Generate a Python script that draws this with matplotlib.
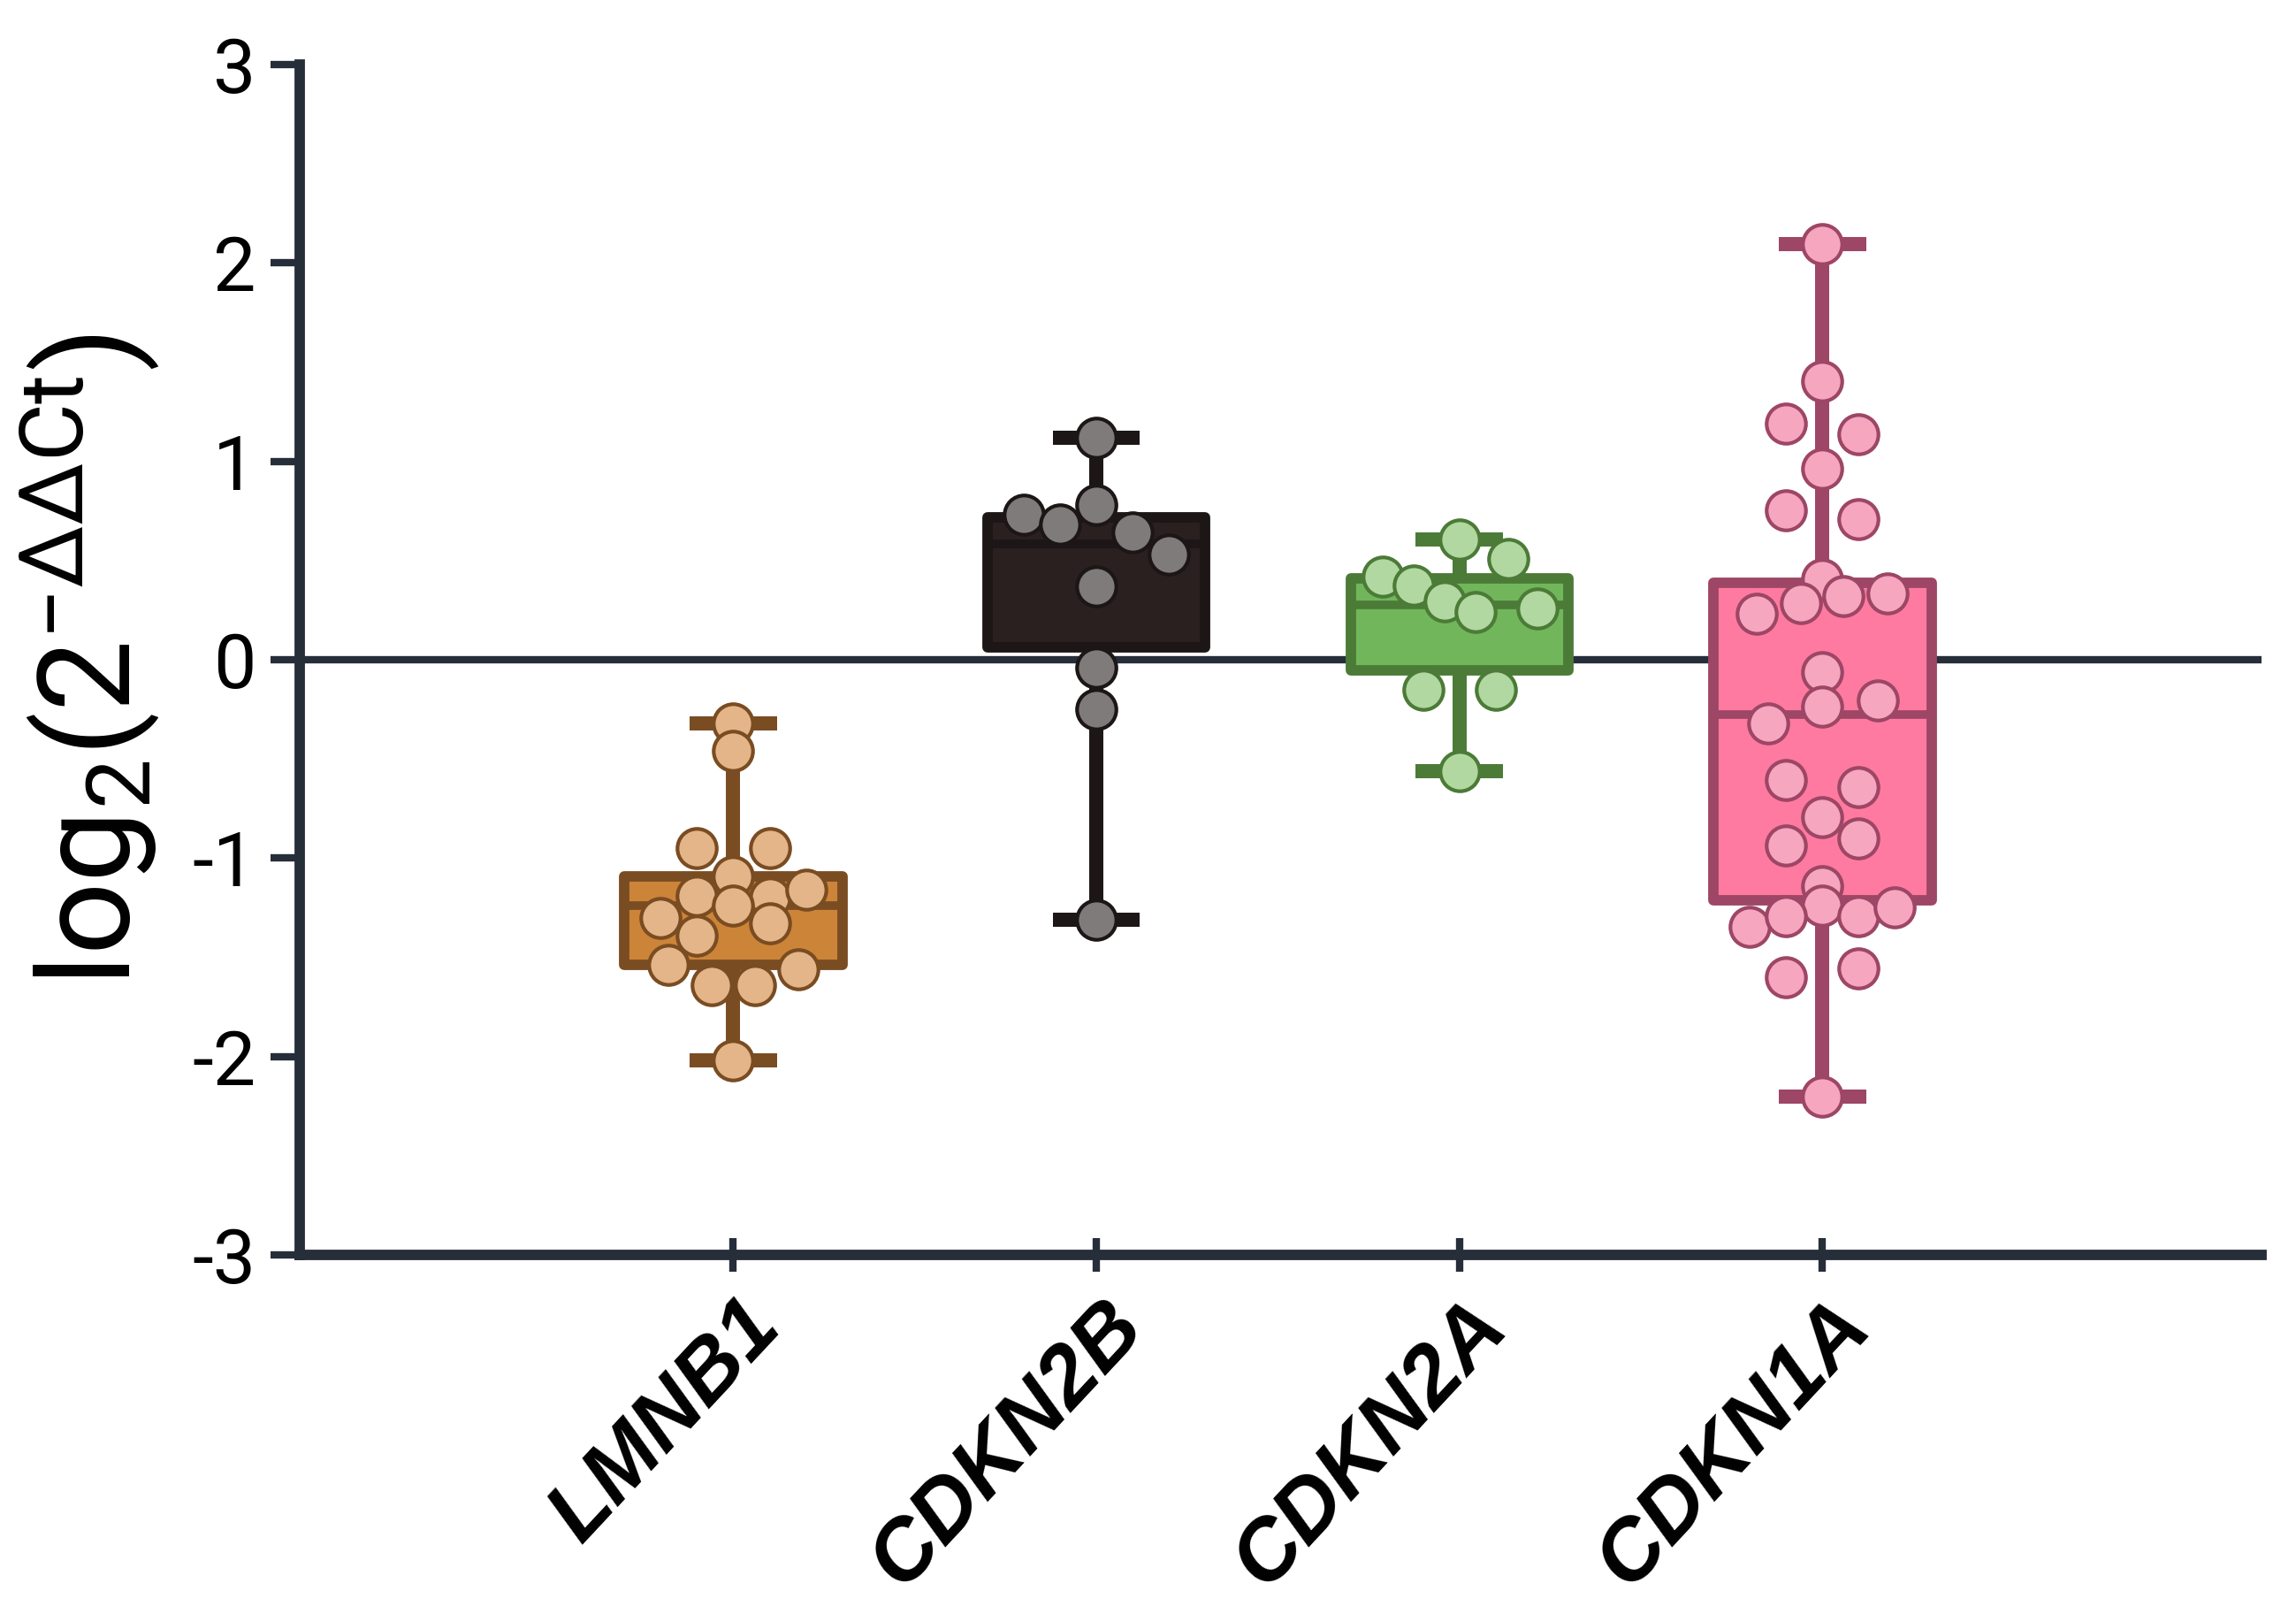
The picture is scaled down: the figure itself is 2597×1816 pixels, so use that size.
import numpy as np
import matplotlib
matplotlib.use("Agg")
import matplotlib.pyplot as plt
from matplotlib.transforms import ScaledTranslation

plt.rcParams['font.family'] = ['Roboto', 'DejaVu Sans']
plt.rcParams['mathtext.fontset'] = 'custom'
plt.rcParams['mathtext.rm'] = 'Roboto'
plt.rcParams['mathtext.it'] = 'Roboto:italic'
plt.rcParams['mathtext.bf'] = 'Roboto:bold'

# ---------------- data ----------------
genes = ["LMNB1", "CDKN2B", "CDKN2A", "CDKN1A"]

lmnb1_vals = [-0.32, -0.46, -0.95, -0.95, -1.09, -1.19, -1.20, -1.16, -1.24,
              -1.30, -1.39, -1.33, -1.54, -1.56, -1.64, -1.64, -2.02]
lmnb1_jit = [0, 0, -0.10, 0.10, 0, -0.10, 0.10, 0.20, 0,
             -0.20, -0.10, 0.10, -0.18, 0.18, -0.06, 0.06, 0]

cdkn2b_vals = [1.12, 0.78, 0.73, 0.68, 0.64, 0.53, 0.37, -0.04, -0.25, -1.31]
cdkn2b_jit = [0, 0, -0.20, -0.10, 0.10, 0.20, 0, 0, 0, 0]

cdkn2a_vals = [0.606, 0.51, 0.42, 0.376, 0.294, 0.242, 0.257, -0.15, -0.15, -0.56]
cdkn2a_jit = [0, 0.134, -0.21, -0.127, -0.04, 0.045, 0.215, -0.10, 0.10, 0]

cdkn1a_vals = [2.095, 1.404, 1.19, 1.138, 0.963, 0.755, 0.707, 0.405, 0.323, 0.284,
               0.333, 0.233, -0.063, -0.235, -0.205, -0.32, -0.606, -0.642, -0.794,
               -0.935, -0.899, -1.14, -1.237, -1.346, -1.292, -1.292, -1.246,
               -1.599, -1.557, -2.203]
cdkn1a_jit = [0, 0, -0.10, 0.10, 0, -0.10, 0.10, 0, 0.058, -0.059,
              0.18, -0.18, 0, 0, 0.152, -0.149, -0.10, 0.10, 0,
              -0.10, 0.10, 0, 0, -0.20, -0.10, 0.10, 0.20,
              -0.10, 0.10, 0]

yticks = [-3, -2, -1, 0, 1, 2, 3]
ytick_labels = ["-3", "-2", "-1", "0", "1", "2", "3"]

values = [lmnb1_vals, cdkn2b_vals, cdkn2a_vals, cdkn1a_vals]
jitters = [lmnb1_jit, cdkn2b_jit, cdkn2a_jit, cdkn1a_jit]

box_face = ["#CC8438", "#2A2020", "#71B65B", "#FF7AA0"]
box_edge = ["#7A4C22", "#1C1616", "#4B7B37", "#9D4666"]
pt_face = ["#E3B588", "#7F7B7B", "#B1D8A0", "#F7A6BF"]

axis_col = "#262E3A"

# ---------------- figure ----------------
fig = plt.figure(figsize=(25.97, 18.16), dpi=100)
ax = fig.add_axes([0.1307, 0.2186, 0.985 - 0.1307, 0.9598 - 0.2186])

ax.axhline(0, color=axis_col, lw=6, zorder=1)

positions = np.arange(len(genes))
for i in range(len(genes)):
    bp = ax.boxplot([values[i]], positions=[positions[i]], widths=0.6,
                    whis=(0, 100), patch_artist=True, showfliers=False,
                    capwidths=0.24, manage_ticks=False)
    for b in bp['boxes']:
        b.set_facecolor(box_face[i])
        b.set_edgecolor(box_edge[i])
        b.set_linewidth(8.5)
        b.set_joinstyle('round')
        b.set_zorder(2)
    for w in bp['whiskers']:
        w.set_color(box_edge[i])
        w.set_linewidth(11.5)
        w.set_solid_capstyle('butt')
        w.set_zorder(1.9)
    for c in bp['caps']:
        c.set_color(box_edge[i])
        c.set_linewidth(11.5)
        c.set_solid_capstyle('butt')
        c.set_zorder(1.9)
    for m in bp['medians']:
        m.set_color(box_edge[i])
        m.set_linewidth(7)
        m.set_solid_capstyle('butt')
        m.set_zorder(2.1)
    xs = positions[i] + np.array(jitters[i])
    ax.scatter(xs, values[i], s=32 ** 2, facecolor=pt_face[i],
               edgecolor=box_edge[i], linewidths=3, zorder=3)

ax.set_xlim(-1.1935, 4.2097)
ax.set_ylim(-3, 3)

for s in ['top', 'right']:
    ax.spines[s].set_visible(False)
for s in ['left', 'bottom']:
    ax.spines[s].set_linewidth(8.5)
    ax.spines[s].set_color(axis_col)

ax.set_yticks(yticks)
ax.set_yticklabels(ytick_labels, fontsize=62, color='black')
ax.tick_params(axis='y', direction='out', length=24, width=6, color=axis_col, pad=12)

ax.set_xticks(positions)
ax.set_xticklabels(genes, fontsize=70, fontweight='bold', fontstyle='italic',
                   family=['Liberation Sans', 'DejaVu Sans'],
                   rotation=47, ha='right', va='top', rotation_mode='anchor')
ax.tick_params(axis='x', direction='inout', length=28, width=6, color=axis_col, pad=4)
offset = ScaledTranslation(0.05, -0.1, fig.dpi_scale_trans)
for lab in ax.get_xticklabels():
    lab.set_transform(lab.get_transform() + offset)

ax.text(-0.1075, 0.5, 'log$_\\mathregular{2}$(2$^\\mathregular{-ΔΔCt}$)',
        transform=ax.transAxes, rotation=90, ha='center', va='center',
        fontsize=104, color='black')

fig.savefig("out.png", dpi=100)
